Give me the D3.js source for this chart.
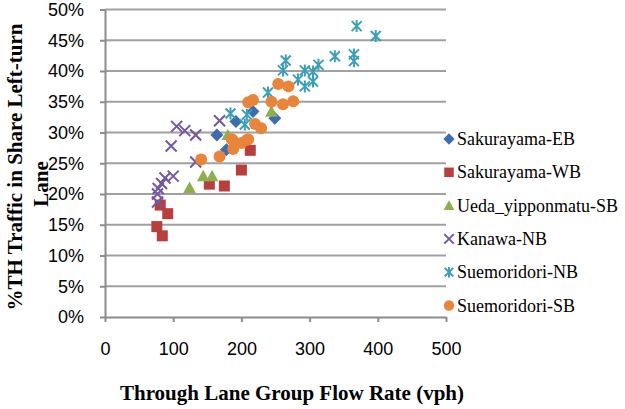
<!DOCTYPE html>
<html>
<head>
<meta charset="utf-8">
<script src="https://cdn.jsdelivr.net/npm/d3@7"></script>
<style>
  body { margin: 0; background: #fff; }
  svg { font-family: "Liberation Serif", "Times New Roman", serif; }
  .grid line { stroke: #a0a0a0; stroke-width: 2; }
  .axis path, .axis line { stroke: #8c8c8c; stroke-width: 2; }
  .axis text { font-size: 18px; fill: #000; }
</style>
</head>
<body>
<svg id="chart" width="625" height="409"></svg>
<script>
const seriesNames = ['Sakurayama-EB', 'Sakurayama-WB', 'Ueda_yipponmatu-SB', 'Kanawa-NB', 'Suemoridori-NB', 'Suemoridori-SB'];
const seriesColors = ['#3d6db0', '#b83f3e', '#8db04e', '#7359a0', '#3b9fb8', '#e8853a'];

// [flow rate (vph), % TH traffic]
const sakurayamaEB = [[164, 29.6], [192, 31.8], [217, 33.4], [249, 32.3], [178, 27.2]];
const sakurayamaWB = [[81, 18.2], [92, 16.8], [76, 14.7], [84, 13.2], [153, 21.6], [175, 21.3], [200, 23.9], [213, 27.1]];
const uedaSB = [[124, 21.0], [144, 22.9], [157, 22.9], [180, 29.6], [244, 33.4]];
const kanawaNB = [[105, 31.0], [117, 30.3], [133, 29.6], [97, 27.8], [168, 31.9], [133, 25.2],
  [100, 22.9], [88, 22.6], [83, 21.7], [78, 20.9], [77, 20.0], [77, 18.7]];
const suemoridoriNB = [[369, 47.3], [397, 45.7], [337, 42.4], [365, 42.7], [365, 41.6], [313, 41.0],
  [293, 40.1], [305, 39.9], [265, 41.7], [261, 40.1], [283, 38.6], [293, 37.5], [305, 38.3],
  [239, 36.5], [184, 33.1], [208, 32.9], [205, 31.3]];
const suemoridoriSB = [[141, 25.6], [168, 26.1], [210, 34.9], [217, 35.3], [244, 35.0], [261, 34.6],
  [276, 35.1], [254, 37.9], [269, 37.5], [220, 31.4], [229, 30.7], [187, 28.8], [188, 27.3],
  [208, 28.8], [200, 28.3], [210, 28.9], [186, 28.9]];
const allSeries = [sakurayamaEB, sakurayamaWB, uedaSB, kanawaNB, suemoridoriNB, suemoridoriSB];

const xTicks = [0, 100, 200, 300, 400, 500];
const yTicks = [0, 5, 10, 15, 20, 25, 30, 35, 40, 45, 50];

const svg = d3.select('#chart');
const x = d3.scaleLinear().domain([0, 500]).range([105, 446]);
const y = d3.scaleLinear().domain([0, 50]).range([317, 9.5]);

// marker shapes
const diamond = { draw(ctx, size) { const r = Math.sqrt(size) / 2 * 1.3; ctx.moveTo(0, -r); ctx.lineTo(r, 0); ctx.lineTo(0, r); ctx.lineTo(-r, 0); ctx.closePath(); } };
const square = { draw(ctx, size) { const r = Math.sqrt(size) / 2; ctx.rect(-r, -r, 2 * r, 2 * r); } };
const triangle = { draw(ctx, size) { const r = Math.sqrt(size) / 2; ctx.moveTo(0, -r * 1.05); ctx.lineTo(r * 1.05, r * 0.85); ctx.lineTo(-r * 1.05, r * 0.85); ctx.closePath(); } };
const cross = { draw(ctx, size) { const r = Math.sqrt(size) / 2; ctx.moveTo(-r, -r); ctx.lineTo(r, r); ctx.moveTo(r, -r); ctx.lineTo(-r, r); } };
const star = { draw(ctx, size) { const r = Math.sqrt(size) / 2; ctx.moveTo(-r, -r); ctx.lineTo(r, r); ctx.moveTo(r, -r); ctx.lineTo(-r, r); ctx.moveTo(0, -r * 1.2); ctx.lineTo(0, r * 1.2); } };
const circle = { draw(ctx, size) { const r = Math.sqrt(size) / 2; ctx.moveTo(r, 0); ctx.arc(0, 0, r, 0, 2 * Math.PI); } };
const shapes = [diamond, square, triangle, cross, star, circle];
const sizes = [100, 121, 144, 121, 100, 144];
const stroked = [false, false, false, true, true, false];

// gridlines
svg.append('g').attr('class', 'grid')
  .selectAll('line').data(yTicks.slice(1)).enter().append('line')
  .attr('x1', x(0)).attr('x2', x(500))
  .attr('y1', d => y(d)).attr('y2', d => y(d));

// axes
svg.append('g').attr('class', 'axis')
  .attr('transform', 'translate(' + x(0) + ',0)')
  .call(d3.axisLeft(y).tickValues(yTicks).tickSize(5).tickSizeOuter(0).tickPadding(16).tickFormat(d => d + '%'));
svg.append('g').attr('class', 'axis')
  .attr('transform', 'translate(0,' + y(0) + ')')
  .call(d3.axisBottom(x).tickValues(xTicks).tickSize(5).tickSizeOuter(0).tickPadding(20));

// points
allSeries.forEach((data, i) => {
  const sym = d3.symbol().type(shapes[i]).size(sizes[i]);
  svg.append('g').selectAll('path').data(data).enter().append('path')
    .attr('transform', d => 'translate(' + x(d[0]) + ',' + y(d[1]) + ')')
    .attr('d', sym)
    .attr('fill', stroked[i] ? 'none' : seriesColors[i])
    .attr('stroke', stroked[i] ? seriesColors[i] : 'none')
    .attr('stroke-width', 2);
});

// legend
const legend = svg.append('g').selectAll('g').data(seriesNames).enter().append('g')
  .attr('transform', (d, i) => 'translate(449,' + (139 + i * 33.3) + ')');
legend.append('path')
  .attr('d', (d, i) => d3.symbol().type(shapes[i]).size(sizes[i] * 0.75)())
  .attr('fill', (d, i) => stroked[i] ? 'none' : seriesColors[i])
  .attr('stroke', (d, i) => stroked[i] ? seriesColors[i] : 'none')
  .attr('stroke-width', 2);
legend.append('text')
  .attr('x', 8).attr('y', 6)
  .attr('font-size', 18)
  .text(d => d);

// axis titles
svg.append('text')
  .attr('x', 292).attr('y', 400)
  .attr('text-anchor', 'middle')
  .attr('font-size', 21).attr('font-weight', 'bold')
  .text('Through Lane Group Flow Rate (vph)');
svg.append('text')
  .attr('transform', 'translate(22,167) rotate(-90)')
  .attr('text-anchor', 'middle')
  .attr('font-size', 21).attr('font-weight', 'bold')
  .text('%TH Traffic in Share Left-turn');
svg.append('text')
  .attr('transform', 'translate(48,184) rotate(-90)')
  .attr('text-anchor', 'middle')
  .attr('font-size', 21).attr('font-weight', 'bold')
  .text('Lane');
</script>
</body>
</html>
